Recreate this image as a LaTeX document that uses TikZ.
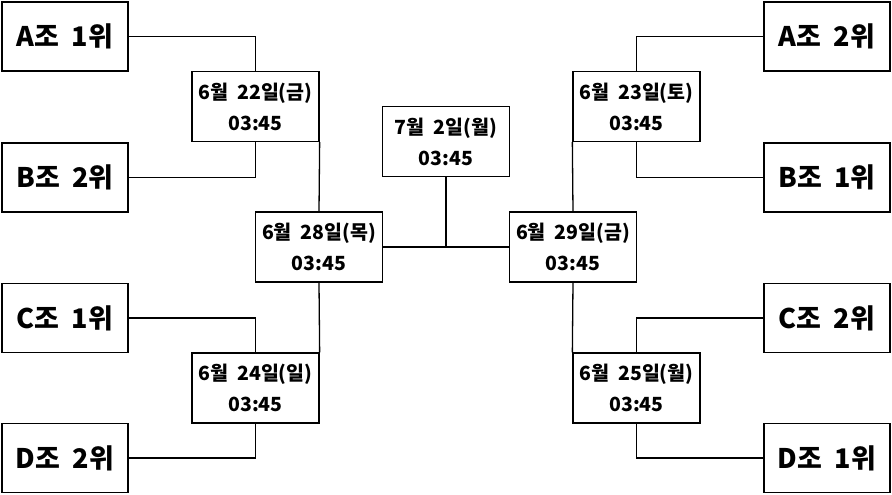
\documentclass[tikz,border=0pt]{standalone}
\usepackage{fontspec}
\setmainfont{Noto Sans CJK KR}
\begin{document}
\begin{tikzpicture}[x=1pt, y=-1pt, line width=1.3pt,
    team/.style={draw, minimum width=126pt, minimum height=69pt, inner sep=0pt,
      font=\fontsize{27}{30}\selectfont\bfseries},
    match/.style={draw, minimum width=127pt, minimum height=70pt, inner sep=0pt,
      align=center, font=\fontsize{19.5}{31}\selectfont\bfseries}]
    \useasboundingbox (0,0) rectangle (892,495);
    % left groups
    \node[team] (a1) at (65,36.5) {A조\ \ 1위};
    \node[team] (b2) at (65,177.5) {B조\ \ 2위};
    \node[team] (c1) at (65,318) {C조\ \ 1위};
    \node[team] (d2) at (65,458) {D조\ \ 2위};
    % right groups
    \node[team] (a2) at (827,36.5) {A조\ \ 2위};
    \node[team] (b1) at (827,177.5) {B조\ \ 1위};
    \node[team] (c2) at (827,318) {C조\ \ 2위};
    \node[team] (d1) at (827,458) {D조\ \ 1위};
    % quarter finals
    \node[match] (q1) at (255.5,106.5) {6월\ \ 22일(금)\\03:45};
    \node[match] (q2) at (255.5,388) {6월\ \ 24일(일)\\03:45};
    \node[match] (q3) at (636.5,106.5) {6월\ \ 23일(토)\\03:45};
    \node[match] (q4) at (636.5,388) {6월\ \ 25일(월)\\03:45};
    % semi finals and final
    \node[match] (s1) at (319,247) {6월\ \ 28일(목)\\03:45};
    \node[match] (s2) at (573,247) {6월\ \ 29일(금)\\03:45};
    \node[match] (fin) at (446,141.5) {7월\ \ 2일(월)\\03:45};
    % bracket lines
    \draw (a1.east) -| (q1.north);
    \draw (b2.east) -| (q1.south);
    \draw (c1.east) -| (q2.north);
    \draw (d2.east) -| (q2.south);
    \draw (a2.west) -| (q3.north);
    \draw (b1.west) -| (q3.south);
    \draw (c2.west) -| (q4.north);
    \draw (d1.west) -| (q4.south);
    \draw (q1.south east) -- (s1.north);
    \draw (s1.south) -- (q2.north east);
    \draw (q3.south west) -- (s2.north);
    \draw (s2.south) -- (q4.north west);
    \draw (s1.east) -- (s2.west);
    \draw (fin.south) -- (fin.south |- s1.east);
\end{tikzpicture}
\end{document}
